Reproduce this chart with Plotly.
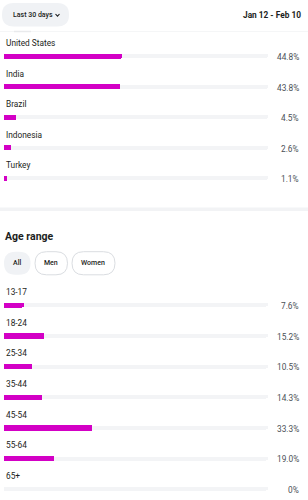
import plotly.graph_objects as go

W, H = 308, 500

countries = ["United States", "India", "Brazil", "Indonesia", "Turkey"]
country_pct = [44.8, 43.8, 4.5, 2.6, 1.1]
country_txt = ["44.8%", "43.8%", "4.5%", "2.6%", "1.1%"]

ages = ["13-17", "18-24", "25-34", "35-44", "45-54", "55-64", "65+"]
age_pct = [7.6, 15.2, 10.5, 14.3, 33.3, 19.0, 0.0]
age_txt = ["7.6%", "15.2%", "10.5%", "14.3%", "33.3%", "19.0%", "0%"]

filters = ["All", "Men", "Women"]
header_left = "Last 30 days"
header_right = "Jan 12 - Feb 10"
section_title = "Age range"

MAG = "#d300c5"
TRACK = "#f3f4f6"
FONT = "Roboto, Arial, sans-serif"


def px(x):
    return x / W


def py(y):
    return 1 - y / H


def pill(a, b, y0, y1):
    r = (y1 - y0) / 2
    ym = (y0 + y1) / 2
    return (f"M {px(a + r)} {py(y0)} L {px(b - r)} {py(y0)} "
            f"Q {px(b)} {py(y0)} {px(b)} {py(ym)} "
            f"Q {px(b)} {py(y1)} {px(b - r)} {py(y1)} "
            f"L {px(a + r)} {py(y1)} "
            f"Q {px(a)} {py(y1)} {px(a)} {py(ym)} "
            f"Q {px(a)} {py(y0)} {px(a + r)} {py(y0)} Z")


fig = go.Figure()

for cats, vals, ax in [(countries, country_pct, "y"), (ages, age_pct, "y2")]:
    fig.add_trace(go.Bar(
        y=cats, x=[100] * len(cats), orientation="h", yaxis=ax,
        marker=dict(color=TRACK, cornerradius=2, line=dict(width=0)),
        width=0.14, hoverinfo="skip", showlegend=False))
    fig.add_trace(go.Bar(
        y=cats, x=vals, orientation="h", yaxis=ax,
        marker=dict(color=MAG, cornerradius=3, line=dict(width=0)),
        width=0.17, showlegend=False))

ann = []
for cats, txts, ax in [(countries, country_txt, "y"), (ages, age_txt, "y2")]:
    for c, t in zip(cats, txts):
        ann.append(dict(x=px(3.5), y=c, xref="paper", yref=ax, text=c,
                        xanchor="left", yanchor="middle", yshift=13,
                        showarrow=False, font=dict(family=FONT, size=8.3, color="#1c1e21")))
        ann.append(dict(x=px(300.5), y=c, xref="paper", yref=ax, text=t,
                        xanchor="right", yanchor="middle", yshift=-1,
                        showarrow=False, font=dict(family=FONT, size=8.3, color="#4b4f56")))

ann.append(dict(x=px(10.5), y=py(15), xref="paper", yref="paper", text=header_left,
                xanchor="left", yanchor="middle", showarrow=False,
                font=dict(family=FONT, size=7, color="#1c1e21", weight=500)))
ann.append(dict(x=px(302.5), y=py(15), xref="paper", yref="paper", text=header_right,
                xanchor="right", yanchor="middle", showarrow=False,
                font=dict(family=FONT, size=8.3, color="#1c1e21", weight="bold")))
ann.append(dict(x=px(3), y=py(236.5), xref="paper", yref="paper", text=section_title,
                xanchor="left", yanchor="middle", showarrow=False,
                font=dict(family=FONT, size=10.5, color="#1c1e21", weight="bold")))

shapes = []
shapes.append(dict(type="path", xref="paper", yref="paper", path=pill(2, 69, 3, 26.5),
                   fillcolor="#f0f2f5", line=dict(width=0), layer="below"))
shapes.append(dict(type="path", xref="paper", yref="paper",
                   path=f"M {px(55.5)} {py(14)} L {px(57.5)} {py(16.2)} L {px(59.5)} {py(14)}",
                   line=dict(color="#1c1e21", width=1.1), layer="above"))
shapes.append(dict(type="line", xref="paper", yref="paper", x0=0, x1=1, y0=py(31.5), y1=py(31.5),
                   line=dict(color="#f5f6f7", width=1)))
shapes.append(dict(type="line", xref="paper", yref="paper", x0=px(14), x1=px(31), y0=py(31.5), y1=py(31.5),
                   line=dict(color="#e9eaec", width=1.5)))
shapes.append(dict(type="rect", xref="paper", yref="paper", x0=0, x1=1, y0=py(211), y1=py(207.5),
                   fillcolor="#f2f3f5", line=dict(width=0)))

pill_x = [(4, 30.5), (35, 67.5), (72, 115)]
for name, (a, b) in zip(filters, pill_x):
    sel = name == "All"
    shapes.append(dict(type="path", xref="paper", yref="paper", path=pill(a, b, 251.7, 274.8),
                       fillcolor="#f0f2f5" if sel else "white",
                       line=dict(color="rgba(0,0,0,0)" if sel else "#dadde1", width=1), layer="below"))
    ann.append(dict(x=px((a + b) / 2), y=py(263), xref="paper", yref="paper", text=name,
                    xanchor="center", yanchor="middle", showarrow=False,
                    font=dict(family=FONT, size=7, color="#1c1e21", weight=500)))

sp1 = (178 - 56) / 4
top1, bot1 = 56 - sp1 / 2, 178 + sp1 / 2
sp2 = (489 - 305) / 6
top2, bot2 = 305 - sp2 / 2, 489 + 0.3 * sp2

fig.update_layout(
    width=W, height=H, margin=dict(l=0, r=0, t=0, b=0),
    paper_bgcolor="white", plot_bgcolor="white",
    barmode="overlay", bargap=0,
    xaxis=dict(domain=[px(4), px(268)], range=[0, 100], visible=False, fixedrange=True),
    yaxis=dict(domain=[py(bot1), py(top1)], type="category", categoryorder="array",
               categoryarray=countries, range=[4.5, -0.5], visible=False),
    yaxis2=dict(domain=[py(bot2), py(top2)], type="category", categoryorder="array",
                categoryarray=ages, range=[6.3, -0.5], visible=False, anchor="x"),
    annotations=ann, shapes=shapes,
    font=dict(family=FONT),
)

fig.write_html("out.html")
